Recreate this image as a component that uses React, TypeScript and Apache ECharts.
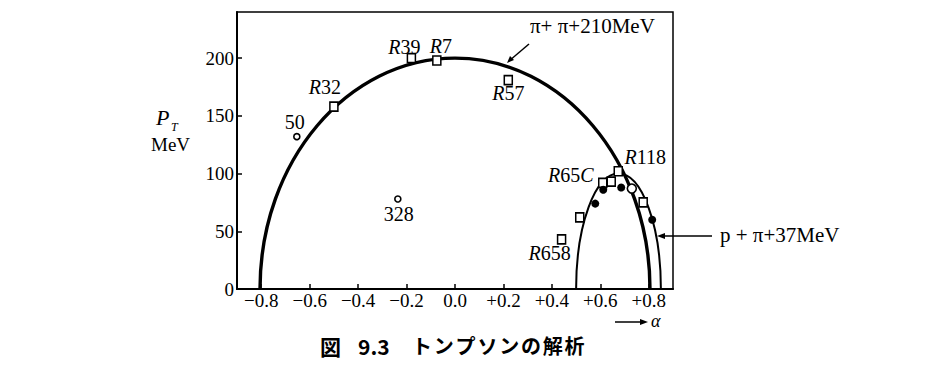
import React, { useEffect, useRef } from "react";
import * as echarts from "echarts";

// Axis ticks and their printed labels
const xTicks = [-0.8, -0.6, -0.4, -0.2, 0, 0.2, 0.4, 0.6, 0.8];
const xTickLabels = ["−0.8", "−0.6", "−0.4", "−0.2", "0.0", "+0.2", "+0.4", "+0.6", "+0.8"];
const yTicks = [0, 50, 100, 150, 200];

// Kinematic ellipses: [centre α, half-width in α, peak P_T (MeV)]
const pipiEllipse = [0, 0.805, 200]; // π + π + 210 MeV
const ppiEllipse = [0.675, 0.175, 100]; // p + π + 37 MeV

// Events: [α, P_T]
const squareEvents = [
  [-0.18, 200],
  [-0.075, 198],
  [-0.5, 158],
  [0.22, 181],
  [0.44, 43],
  [0.515, 62],
  [0.61, 92],
  [0.645, 93],
  [0.674, 102],
  [0.777, 75],
];
const squareNames = ["R39", "R7", "R32", "R57", "R658", "", "R65C", "", "R118", ""];

const smallCircleEvents = [
  [-0.653, 132],
  [-0.236, 78],
];
const smallCircleNames = ["50", "328"];

const largeCircleEvents = [[0.73, 87]];

const filledCircleEvents = [
  [0.579, 74],
  [0.612, 86],
  [0.686, 88],
  [0.814, 60],
];

// Label placement (pixel offset from the marker centre)
const labelOffsets: Record<string, [number, number]> = {
  R39: [-7, -11],
  R7: [4, -14],
  R32: [-9, -20],
  R57: [0, 13],
  R658: [-12, 14],
  R65C: [-32, -8],
  R118: [27, -14],
  "50": [-2, -15],
  "328": [1, 15],
};

const SERIF = "'Liberation Serif', 'DejaVu Serif', serif";
const CJK = "'Noto Sans CJK JP', sans-serif";

function richName(name: string) {
  // italic R (and trailing C) as printed in event names
  return name.replace(/^R/, "{i|R}").replace(/C$/, "{i|C}");
}

function labelled(points: number[][], names: string[]) {
  return points.map((p, i) => {
    const name = names[i];
    if (!name) return { value: p };
    return {
      value: p,
      label: {
        show: true,
        position: "inside",
        offset: labelOffsets[name],
        formatter: richName(name),
        color: "#000",
        fontFamily: SERIF,
        fontSize: 20,
        rich: { i: { fontStyle: "italic", fontFamily: SERIF, fontSize: 20, color: "#000" } },
      },
    };
  });
}

const captionKana = "トンプソンの解析".split("");

export default function App() {
  const ref = useRef<HTMLDivElement>(null);

  useEffect(() => {
    if (!ref.current) return;
    const chart = echarts.init(ref.current, undefined, { renderer: "svg" });

    const ellipseItem = (params: any, api: any) => {
      const c = api.coord([api.value(0), 0]);
      const e = api.coord([api.value(0) + api.value(1), api.value(2)]);
      return {
        type: "ellipse",
        shape: { cx: c[0], cy: c[1], rx: e[0] - c[0], ry: c[1] - e[1] },
        style: { fill: "none", stroke: "#000", lineWidth: params.dataIndex === 0 ? 3.4 : 2 },
      };
    };

    const axisText = { color: "#000", fontFamily: SERIF, fontSize: 19 };

    chart.setOption({
      animation: false,
      backgroundColor: "#fff",
      grid: {
        left: 237,
        top: 12,
        width: 436,
        height: 277,
        show: true,
        borderColor: "#000",
        borderWidth: 1.5,
        backgroundColor: "transparent",
      },
      xAxis: {
        type: "value",
        min: -0.9,
        max: 0.9,
        splitLine: { show: false },
        axisLine: { show: true, onZero: false, lineStyle: { color: "#000", width: 2 } },
        axisTick: {
          show: true,
          inside: true,
          length: 5,
          customValues: xTicks,
          lineStyle: { color: "#000", width: 1.5 },
        },
        axisLabel: {
          ...axisText,
          margin: 2,
          customValues: xTicks,
          formatter: (v: number) => {
            const k = xTicks.findIndex((t) => Math.abs(t - v) < 1e-6);
            return k >= 0 ? xTickLabels[k] : "";
          },
        },
      },
      yAxis: {
        type: "value",
        min: 0,
        max: 240,
        splitLine: { show: false },
        axisLine: { show: true, onZero: false, lineStyle: { color: "#000", width: 2 } },
        axisTick: {
          show: true,
          inside: true,
          length: 5,
          customValues: yTicks,
          lineStyle: { color: "#000", width: 1.5 },
        },
        axisLabel: { ...axisText, margin: 3, customValues: yTicks },
      },
      series: [
        {
          type: "custom",
          clip: true,
          renderItem: ellipseItem,
          data: [pipiEllipse, ppiEllipse],
          z: 1,
        },
        {
          type: "scatter",
          symbol: "rect",
          symbolSize: [8, 9],
          itemStyle: { color: "#fff", borderColor: "#000", borderWidth: 1.6, opacity: 1 },
          data: labelled(squareEvents, squareNames),
          z: 3,
        },
        {
          type: "scatter",
          symbol: "circle",
          symbolSize: 6,
          itemStyle: { color: "#fff", borderColor: "#000", borderWidth: 1.6, opacity: 1 },
          data: labelled(smallCircleEvents, smallCircleNames),
          z: 3,
        },
        {
          type: "scatter",
          symbol: "circle",
          symbolSize: 9,
          itemStyle: { color: "#fff", borderColor: "#000", borderWidth: 1.6, opacity: 1 },
          data: largeCircleEvents,
          z: 3,
        },
        {
          type: "scatter",
          symbol: "circle",
          symbolSize: 8,
          itemStyle: { color: "#000", opacity: 1 },
          data: filledCircleEvents,
          z: 3,
        },
      ],
      graphic: [
        // y-axis title
        {
          type: "text",
          left: 156,
          top: 106,
          style: { text: "P", fontFamily: SERIF, fontStyle: "italic", fontSize: 22, fill: "#000" },
        },
        {
          type: "text",
          left: 171,
          top: 121,
          style: { text: "T", fontFamily: SERIF, fontStyle: "italic", fontSize: 12, fill: "#000" },
        },
        {
          type: "text",
          left: 151,
          top: 135,
          style: { text: "MeV", fontFamily: SERIF, fontSize: 19, fill: "#000" },
        },
        // curve annotation: π + π
        {
          type: "text",
          left: 530,
          top: 15,
          style: { text: "π+ π+210MeV", fontFamily: SERIF, fontSize: 21, fill: "#000" },
        },
        {
          type: "line",
          shape: { x1: 529, y1: 44, x2: 509, y2: 61 },
          style: { stroke: "#000", lineWidth: 1.5 },
        },
        {
          type: "polygon",
          shape: { points: [[507, 63], [510, 56], [514, 60]] },
          style: { fill: "#000" },
        },
        // curve annotation: p + π
        {
          type: "text",
          left: 720,
          top: 224,
          style: { text: "p + π+37MeV", fontFamily: SERIF, fontSize: 21, fill: "#000" },
        },
        {
          type: "line",
          shape: { x1: 712, y1: 236, x2: 660, y2: 236 },
          style: { stroke: "#000", lineWidth: 1.5 },
        },
        {
          type: "polygon",
          shape: { points: [[657, 236], [665, 233], [665, 239]] },
          style: { fill: "#000" },
        },
        // α direction arrow
        {
          type: "line",
          shape: { x1: 615, y1: 322, x2: 643, y2: 322 },
          style: { stroke: "#000", lineWidth: 1.5 },
        },
        {
          type: "polygon",
          shape: { points: [[648, 322], [640, 319], [640, 325]] },
          style: { fill: "#000" },
        },
        {
          type: "text",
          left: 651,
          top: 312,
          style: { text: "α", fontFamily: SERIF, fontStyle: "italic", fontSize: 18, fill: "#000" },
        },
        // caption
        {
          type: "text",
          left: 320,
          top: 335,
          style: { text: "図", fontFamily: CJK, fontWeight: "bold", fontSize: 21, fill: "#000" },
        },
        {
          type: "text",
          left: 358,
          top: 335,
          style: { text: "9.3", fontFamily: CJK, fontWeight: "bold", fontSize: 21, fill: "#000" },
        },
        ...captionKana.map((ch, i) => ({
          type: "text",
          left: 412 + i * 21.8,
          top: 335,
          style: { text: ch, fontFamily: CJK, fontWeight: "bold", fontSize: 20, fill: "#000" },
        })),
      ],
    });

    return () => chart.dispose();
  }, []);

  return (
    <div
      ref={ref}
      style={{ position: "absolute", left: 0, top: 0, width: 940, height: 366, background: "#fff" }}
    />
  );
}
